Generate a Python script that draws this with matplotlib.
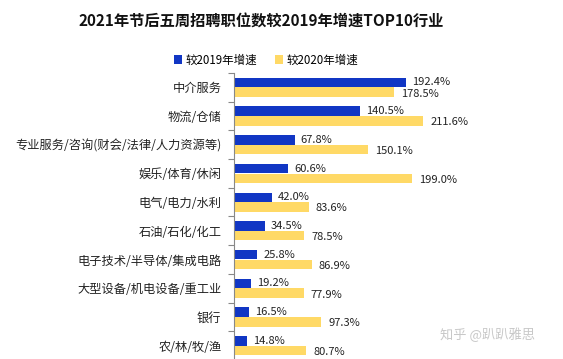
import matplotlib
matplotlib.use("Agg")
import matplotlib.pyplot as plt
import numpy as np

plt.rcParams['font.family'] = ['Noto Sans CJK SC', 'DejaVu Sans']

categories = ["中介服务", "物流/仓储", "专业服务/咨询(财会/法律/人力资源等)", "娱乐/体育/休闲",
              "电气/电力/水利", "石油/石化/化工", "电子技术/半导体/集成电路",
              "大型设备/机电设备/重工业", "银行", "农/林/牧/渔"]
vs2019 = [192.4, 140.5, 67.8, 60.6, 42.0, 34.5, 25.8, 19.2, 16.5, 14.8]
vs2020 = [178.5, 211.6, 150.1, 199.0, 83.6, 78.5, 86.9, 77.9, 97.3, 80.7]
series_names = ["较2019年增速", "较2020年增速"]

blue = "#1136C4"
yellow = "#FFD966"

W, H = 563, 359
fig = plt.figure(figsize=(W / 100, H / 100), dpi=100)
left = 234 / W
top_px, bot_px = 73, 360
ax = fig.add_axes([left, (H - bot_px) / H, 1 - left, (bot_px - top_px) / H])

y = np.arange(len(categories))
h = 0.33
off = 0.17
b1 = ax.barh(y - off, vs2019, height=h, color=blue, label=series_names[0])
b2 = ax.barh(y + off, vs2020, height=h, color=yellow, label=series_names[1])

for yi, v in zip(y, vs2019):
    ax.text(v + 7, yi - off, f"{v:.1f}%", va="center", ha="left", fontsize=8, color="#222222")
for yi, v in zip(y, vs2020):
    ax.text(v + 8, yi + off + 0.05, f"{v:.1f}%", va="center", ha="left", fontsize=8, color="#222222")

ax.set_xlim(0, (W - 234) / 0.894)
ax.set_ylim(len(categories) - 0.5, -0.5)

for s in ["top", "right", "bottom"]:
    ax.spines[s].set_visible(False)
ax.spines["left"].set_color("#888888")
ax.spines["left"].set_linewidth(0.8)
ax.set_xticks([])

ax.set_yticks(np.arange(-0.5, len(categories), 1.0))
ax.set_yticklabels([])
ax.tick_params(axis="y", which="major", length=4, color="#888888", width=0.8)
ax.set_yticks(y, minor=True)
ax.set_yticklabels(categories, minor=True, fontsize=8.8, color="#222222")
ax.tick_params(axis="y", which="minor", length=0, pad=9)

fig.text(261 / W, 1 - 22 / H, "2021年节后五周招聘职位数较2019年增速TOP10行业",
         ha="center", va="center", fontsize=11, fontweight="bold", color="#111111")

fig.legend(handles=[b1, b2], labels=series_names, loc="center",
           bbox_to_anchor=(266 / W, 1 - 60 / H), ncol=2, frameon=False, fontsize=8.3,
           handlelength=0.7, handleheight=0.7, handletextpad=0.3, columnspacing=1.5)

fig.text(487 / W, 1 - 335 / H, "知乎 @趴趴雅思", ha="center", va="center",
         fontsize=9.5, color="#C8C8C8")

fig.savefig("out.png", dpi=100)
